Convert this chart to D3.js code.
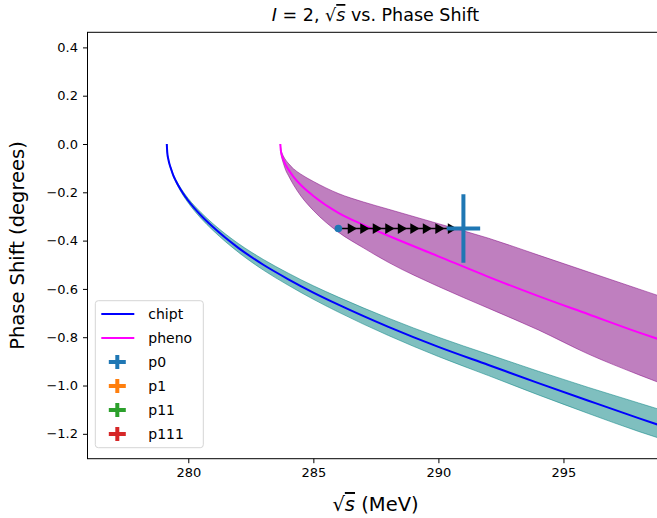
<!DOCTYPE html>
<html>
<head>
<meta charset="utf-8">
<script src="https://cdn.jsdelivr.net/npm/d3@7"></script>
<style>
  body { margin: 0; background: white; }
  text { font-family: "DejaVu Sans", sans-serif; }
</style>
</head>
<body>
<div id="wrapper"></div>
<script>
// chipt curve and its band
const chiptS  = [279.14, 279.16, 279.2, 279.25, 279.3, 279.4, 279.5, 279.6, 279.8, 280.0, 280.5, 281, 282, 283, 284, 285, 286, 288, 290, 292, 294, 296, 298, 299]
const chiptVal = [0, -0.036, -0.062, -0.084, -0.10, -0.13, -0.152, -0.172, -0.206, -0.235, -0.295, -0.345, -0.43, -0.50, -0.56, -0.615, -0.665, -0.757, -0.84, -0.915, -0.99, -1.063, -1.135, -1.17]
const chiptHi = [0, -0.035, -0.060, -0.081, -0.097, -0.126, -0.147, -0.166, -0.198, -0.226, -0.283, -0.331, -0.412, -0.478, -0.535, -0.587, -0.634, -0.721, -0.800, -0.871, -0.941, -1.008, -1.072, -1.104]
const chiptLo = [0, -0.037, -0.064, -0.087, -0.103, -0.134, -0.157, -0.178, -0.214, -0.244, -0.307, -0.359, -0.448, -0.522, -0.585, -0.643, -0.696, -0.793, -0.880, -0.959, -1.039, -1.116, -1.190, -1.224]

// pheno curve and its band
const phenoS  = [283.68, 283.70, 283.75, 283.8, 283.9, 284.0, 284.2, 284.5, 285, 286, 287, 288, 290, 292, 294, 296, 298, 299]
const phenoVal = [0, -0.027, -0.05, -0.065, -0.088, -0.105, -0.135, -0.17, -0.215, -0.285, -0.335, -0.38, -0.465, -0.55, -0.63, -0.705, -0.78, -0.815]
const phenoHi = [0, -0.021, -0.038, -0.05, -0.067, -0.08, -0.102, -0.125, -0.155, -0.205, -0.24, -0.27, -0.33, -0.39, -0.46, -0.53, -0.60, -0.635]
const phenoLo = [0, -0.033, -0.062, -0.08, -0.11, -0.13, -0.168, -0.215, -0.275, -0.365, -0.43, -0.49, -0.59, -0.68, -0.77, -0.87, -0.955, -0.995]

// p0 point with errors, and the arrow path that leads to it
const p0 = { x: 291.0, y: -0.35, xerr: 0.67, yerr: 0.142 }
const startPoint = { x: 286.0, y: -0.35 }
const arrowS = [286.5, 287.0, 287.5, 288.0, 288.5, 289.0, 289.5, 290.0, 290.5]

const legendNames = ["chipt", "pheno", "p0", "p1", "p11", "p111"]
const legendColors = ["#0000ff", "#ff00ff", "#1f77b4", "#ff7f0e", "#2ca02c", "#d62728"]

const xTicks = [280, 285, 290, 295]
const yTicks = [0.4, 0.2, 0.0, -0.2, -0.4, -0.6, -0.8, -1.0, -1.2]

const dimensions = {
  width: 657,
  height: 518,
  margin: { top: 32.3, left: 87.5 },
  boundedWidth: 576,
  boundedHeight: 426.4
}

const wrapper = d3.select("#wrapper")
  .append("svg")
  .attr("width", dimensions.width)
  .attr("height", dimensions.height)

const bounds = wrapper.append("g")
  .attr("transform", `translate(${dimensions.margin.left},${dimensions.margin.top})`)

const xScale = d3.scaleLinear()
  .domain([275.97, 299.0])
  .range([0, dimensions.boundedWidth])

const yScale = d3.scaleLinear()
  .domain([-1.303, 0.4625])
  .range([dimensions.boundedHeight, 0])

bounds.append("clipPath").attr("id", "clip")
  .append("rect")
  .attr("width", dimensions.boundedWidth)
  .attr("height", dimensions.boundedHeight)

const plot = bounds.append("g").attr("clip-path", "url(#clip)")

// bands
const area = d3.area()
  .x(d => xScale(d.s))
  .y0(d => yScale(d.lo))
  .y1(d => yScale(d.hi))
  .curve(d3.curveMonotoneX)

const line = d3.line()
  .x(d => xScale(d.s))
  .y(d => yScale(d.v))
  .curve(d3.curveMonotoneX)

const chiptData = chiptS.map((s, i) => ({ s, v: chiptVal[i], lo: chiptLo[i], hi: chiptHi[i] }))
const phenoData = phenoS.map((s, i) => ({ s, v: phenoVal[i], lo: phenoLo[i], hi: phenoHi[i] }))

plot.append("path")
  .attr("d", area(chiptData))
  .attr("fill", "teal")
  .attr("fill-opacity", 0.5)
  .attr("stroke", "teal")
  .attr("stroke-opacity", 0.5)
  .attr("stroke-width", 1)

plot.append("path")
  .attr("d", line(chiptData))
  .attr("fill", "none")
  .attr("stroke", "#0000ff")
  .attr("stroke-width", 2)

plot.append("path")
  .attr("d", area(phenoData))
  .attr("fill", "purple")
  .attr("fill-opacity", 0.5)
  .attr("stroke", "purple")
  .attr("stroke-opacity", 0.5)
  .attr("stroke-width", 1)

plot.append("path")
  .attr("d", line(phenoData))
  .attr("fill", "none")
  .attr("stroke", "#ff00ff")
  .attr("stroke-width", 2)

// arrow path
plot.append("line")
  .attr("x1", xScale(startPoint.x))
  .attr("y1", yScale(startPoint.y))
  .attr("x2", xScale(p0.x))
  .attr("y2", yScale(p0.y))
  .attr("stroke", "black")
  .attr("stroke-width", 1.5)

plot.selectAll(".arrow")
  .data(arrowS)
  .join("path")
  .attr("class", "arrow")
  .attr("d", d3.symbol(d3.symbolTriangle, 50)())
  .attr("transform", d => `translate(${xScale(d)},${yScale(p0.y)}) rotate(90)`)
  .attr("fill", "black")

plot.append("circle")
  .attr("cx", xScale(startPoint.x))
  .attr("cy", yScale(startPoint.y))
  .attr("r", 3.8)
  .attr("fill", "#1f77b4")

// p0 error bars
plot.append("line")
  .attr("x1", xScale(p0.x - p0.xerr))
  .attr("x2", xScale(p0.x + p0.xerr))
  .attr("y1", yScale(p0.y))
  .attr("y2", yScale(p0.y))
  .attr("stroke", "#1f77b4")
  .attr("stroke-width", 4)

plot.append("line")
  .attr("x1", xScale(p0.x))
  .attr("x2", xScale(p0.x))
  .attr("y1", yScale(p0.y - p0.yerr))
  .attr("y2", yScale(p0.y + p0.yerr))
  .attr("stroke", "#1f77b4")
  .attr("stroke-width", 4)

// axes
const xAxis = bounds.append("g")
  .attr("transform", `translate(0,${dimensions.boundedHeight})`)
  .call(d3.axisBottom(xScale).tickValues(xTicks).tickSize(4.5).tickPadding(5))

const yAxis = bounds.append("g")
  .call(d3.axisLeft(yScale).tickValues(yTicks).tickSize(4.5).tickPadding(5).tickFormat(d3.format(".1f")))

for (const ax of [xAxis, yAxis]) {
  ax.select(".domain").remove()
  ax.selectAll("line").attr("stroke", "black").attr("stroke-width", 1)
  ax.selectAll("text").attr("fill", "black").attr("font-size", "13px")
    .attr("font-family", "DejaVu Sans")
}

// frame
bounds.append("rect")
  .attr("width", dimensions.boundedWidth)
  .attr("height", dimensions.boundedHeight)
  .attr("fill", "none")
  .attr("stroke", "black")
  .attr("stroke-width", 1)

// title
const cx = dimensions.margin.left + dimensions.boundedWidth / 2
const title = wrapper.append("text")
  .attr("x", cx)
  .attr("y", 21)
  .attr("text-anchor", "middle")
  .attr("font-size", "17.5px")
title.append("tspan").attr("font-style", "italic").text("I")
title.append("tspan").text(" = 2, √")
title.append("tspan").attr("font-style", "italic").style("text-decoration", "overline").text("s")
title.append("tspan").text(" vs. Phase Shift")

// axis labels
const xLabel = wrapper.append("text")
  .attr("x", cx)
  .attr("y", 511)
  .attr("text-anchor", "middle")
  .attr("font-size", "19.5px")
xLabel.append("tspan").text("√")
xLabel.append("tspan").attr("font-style", "italic").style("text-decoration", "overline").text("s")
xLabel.append("tspan").text(" (MeV)")

wrapper.append("text")
  .attr("transform", `translate(24,${dimensions.margin.top + dimensions.boundedHeight / 2}) rotate(-90)`)
  .attr("text-anchor", "middle")
  .attr("font-size", "19.5px")
  .text("Phase Shift (degrees)")

// legend
const legend = wrapper.append("g")
  .attr("transform", "translate(95.3,300.7)")

legend.append("rect")
  .attr("width", 108)
  .attr("height", 147)
  .attr("rx", 3)
  .attr("fill", "white")
  .attr("fill-opacity", 0.8)
  .attr("stroke", "#d5d5d5")

const items = legend.selectAll(".item")
  .data(legendNames)
  .join("g")
  .attr("class", "item")
  .attr("transform", (d, i) => `translate(0,${13.3 + i * 24})`)

items.each(function (d, i) {
  const g = d3.select(this)
  if (i < 2) {
    g.append("line")
      .attr("x1", 6).attr("x2", 39)
      .attr("stroke", legendColors[i])
      .attr("stroke-width", 2)
  } else {
    g.append("line")
      .attr("x1", 13.5).attr("x2", 30.5)
      .attr("stroke", legendColors[i]).attr("stroke-width", 4)
    g.append("line")
      .attr("x1", 22).attr("x2", 22).attr("y1", -7).attr("y2", 7)
      .attr("stroke", legendColors[i]).attr("stroke-width", 4)
  }
  g.append("text")
    .attr("x", 53)
    .attr("y", 5)
    .attr("font-size", "14px")
    .text(d)
})
</script>
</body>
</html>
